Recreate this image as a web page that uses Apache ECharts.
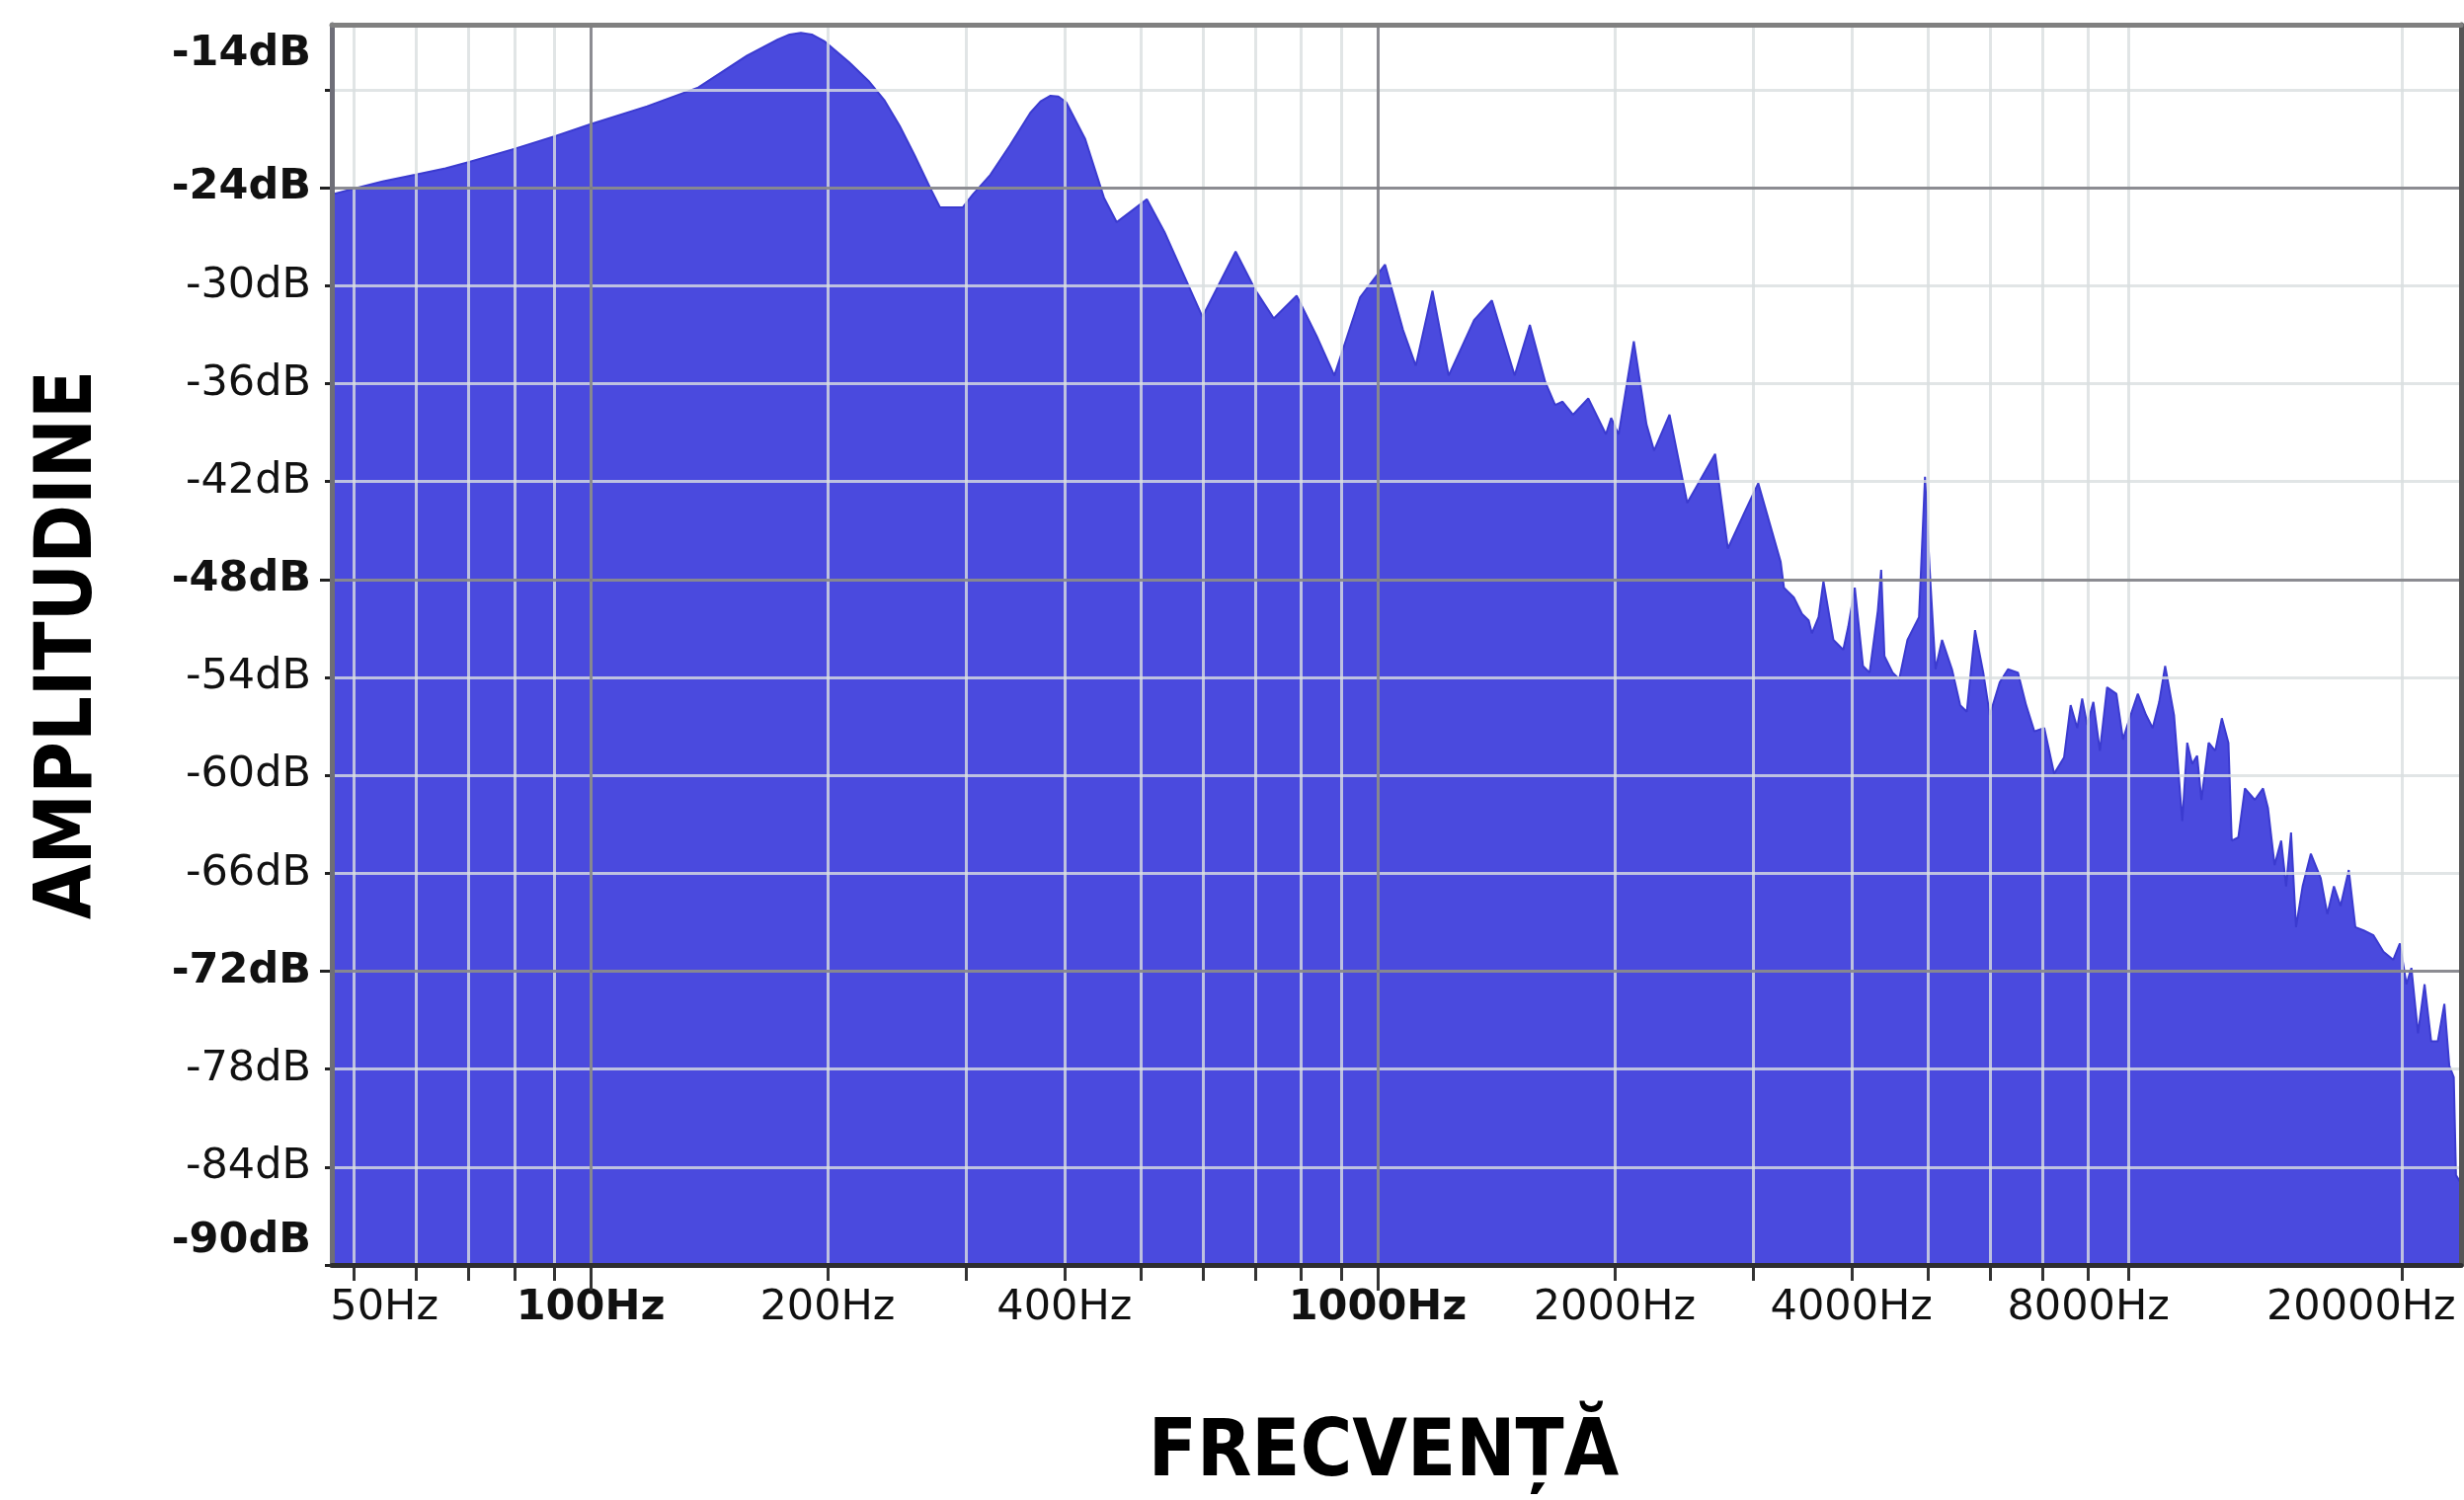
<!DOCTYPE html>
<html>
<head>
<meta charset="utf-8">
<title>Spectru de frecventa</title>
<script src="https://cdn.jsdelivr.net/npm/echarts@6/dist/echarts.min.js"></script>
<style>
  html, body { margin: 0; padding: 0; background: #fff; }
  #chart { width: 2495px; height: 1519px; }
</style>
</head>
<body>
<div id="chart"></div>
<script>
// frecvente (Hz) si nivelurile citite de pe spectru (dB)
var freqs = [
  46.9, 50.5, 54.4, 59.8, 65.4, 70.3, 80.1, 90.5, 100, 118,
  137, 158, 173, 179, 185, 191, 198, 213, 226, 236, 247, 258,
  270, 278, 297, 306, 322, 341, 362, 373, 384, 393, 402, 425,
  449, 466, 509, 536, 569, 599, 660, 700, 738, 789,
  837, 881, 950, 1022, 1077, 1118, 1174, 1231, 1326, 1397,
  1493, 1561, 1633, 1681, 1718, 1771, 1852, 1950, 1980, 2024,
  2116, 2196, 2245, 2349, 2474, 2684, 2786, 2937, 3045, 3251,
  3283, 3379, 3428, 3461, 3529, 3563, 3633, 3685, 3794, 3905,
  3962, 4039, 4137, 4218, 4321, 4363, 4405, 4512, 4600, 4712,
  4874, 4960, 5027, 5115, 5214, 5367, 5498, 5605, 5742, 5882,
  5996, 6172, 6323, 6509, 6668, 6830, 7031, 7237, 7450, 7595,
  7743, 7856, 7971, 8117, 8274, 8450, 8683, 8853, 9025, 9245,
  9470, 9655, 9842, 10014, 10278, 10529, 10683, 10838, 10997, 11135,
  11374, 11595, 11821, 12051, 12168, 12405, 12646, 13018, 13335, 13530,
  13793, 14062, 14266, 14474, 14686, 14972, 15338, 15788, 16095, 16409,
  16729, 17137, 17470, 17898, 18423, 18965, 19520, 19900, 20287, 20583,
  20984, 21393, 21810, 22234, 22667, 22998, 23300, 23450, 23800
];
var levels = [
  -24.4, -24.0, -23.6, -23.2, -22.8, -22.4, -21.6, -20.8, -20.1, -19.0,
  -17.85, -15.9, -14.9, -14.6, -14.5, -14.6, -15.0, -16.3, -17.5, -18.6, -20.2, -22.0,
  -24.0, -25.2, -25.2, -24.4, -23.2, -21.4, -19.4, -18.7, -18.35, -18.4, -18.75, -21.0,
  -24.6, -26.1, -24.7, -26.7, -29.5, -31.9, -27.9, -30.3, -32.0, -30.6,
  -33.1, -35.5, -30.7, -28.7, -32.7, -34.9, -30.3, -35.5, -32.1, -30.9,
  -35.5, -32.4, -35.9, -37.3, -37.1, -37.9, -36.9, -39.1, -38.1, -39.1,
  -33.4, -38.5, -40.1, -37.9, -43.3, -40.3, -46.1, -43.7, -42.1, -46.9,
  -48.5, -49.1, -49.7, -50.1, -50.5, -51.3, -50.3, -48.1, -51.7, -52.3,
  -50.9, -48.5, -53.3, -53.7, -49.9, -47.4, -52.7, -53.7, -54.1, -51.7,
  -50.3, -41.7, -47.3, -53.5, -51.7, -53.5, -55.7, -56.1, -51.1, -53.7,
  -56.3, -54.3, -53.5, -53.7, -55.7, -57.3, -57.1, -59.9, -58.9, -55.7,
  -57.1, -55.3, -56.9, -55.5, -58.5, -54.6, -55.0, -57.8, -56.5, -55.0,
  -56.3, -57.1, -55.5, -53.3, -56.3, -62.8, -58.0, -59.3, -58.8, -61.5,
  -58.0, -58.5, -56.5, -58.0, -64.0, -63.8, -60.8, -61.5, -60.8, -62.0,
  -65.5, -64.0, -66.8, -63.5, -69.3, -66.8, -64.8, -66.3, -68.5, -66.8,
  -68.0, -65.8, -69.3, -69.5, -69.8, -70.8, -71.3, -70.3, -72.8, -71.8,
  -75.8, -72.8, -76.3, -76.3, -74.0, -77.8, -78.5, -84.5, -85.0
];

// axa de frecventa (logaritmica)
var freqTicks = [50, 60, 70, 80, 90, 100, 200, 300, 400, 500, 600, 700, 800, 900,
  1000, 2000, 3000, 4000, 5000, 6000, 7000, 8000, 9000, 20000];
var freqLabels = [50, 100, 200, 400, 1000, 2000, 4000, 8000, 20000];
var majorFreqs = [100, 1000];
var fMin = 46.9, fMax = 23800;

// axa de amplitudine
var dbTicks = [-90, -84, -78, -72, -66, -60, -54, -48, -42, -36, -30, -24, -18];
var dbLabels = [-90, -84, -78, -72, -66, -60, -54, -48, -42, -36, -30, -24, -14];
var majorDb = [-24, -48, -72];
var boldDb = [-14, -24, -48, -72, -90];
var dbMin = -90, dbMax = -14;

var chart = echarts.init(document.getElementById('chart'));

function lg(f) { return Math.log10(f); }
var xMin = lg(fMin), xMax = lg(fMax);

var labelFont = 'DejaVu Sans';
var nameFont = "'DejaVu Sans Condensed', 'DejaVu Sans'";
var lightGrid = 'rgba(218,222,224,0.8)';
var darkGrid = 'rgba(125,125,130,0.85)';

function txt(weight, padding) {
    var s = { fontFamily: labelFont, fontSize: 43, fontWeight: weight, color: '#111', lineHeight: 50 };
    if (padding) s.padding = padding;
    return s;
}

// rama graficului: o axa doar cu linia ei
function frameX(pos, color) {
    return {
        type: 'value', position: pos, min: xMin, max: xMax, z: 6,
        axisLine: { show: true, lineStyle: { color: color, width: 5 } },
        axisTick: { show: false }, axisLabel: { show: false }, splitLine: { show: false }
    };
}
function frameY(pos, color) {
    return {
        type: 'value', position: pos, min: dbMin, max: dbMax, z: 6,
        axisLine: { show: true, lineStyle: { color: color, width: 5 } },
        axisTick: { show: false }, axisLabel: { show: false }, splitLine: { show: false }
    };
}

var option = {
    backgroundColor: '#fff',
    animation: false,
    grid: { left: 336, right: 3, top: 25, bottom: 238, outerBoundsMode: 'none' },
    xAxis: [
        {
            type: 'value', position: 'bottom', min: xMin, max: xMax, z: 3,
            name: 'FRECVENȚĂ', nameLocation: 'middle', nameGap: 152,
            nameTextStyle: { fontFamily: nameFont, fontWeight: 'bold', fontSize: 80, color: '#000',
                lineHeight: 80, padding: [0, 26, 0, 0] },
            axisLine: { show: false },
            axisTick: { show: true, customValues: freqTicks.map(lg), length: 16,
                lineStyle: { color: '#333', width: 3 } },
            axisLabel: {
                show: true, customValues: freqLabels.map(lg), margin: 19,
                formatter: function (v) {
                    var f = Math.round(Math.pow(10, v));
                    var key = majorFreqs.indexOf(f) >= 0 ? 'b' : 'n';
                    if (f === freqLabels[0]) key = 'first';
                    if (f === freqLabels[freqLabels.length - 1]) key = 'last';
                    return '{' + key + '|' + f + 'Hz}';
                },
                rich: {
                    n: txt('normal'), b: txt('bold'),
                    first: txt('normal', [0, 0, 0, 62]),
                    last: txt('normal', [0, 82, 0, 0])
                }
            },
            splitLine: { show: true, lineStyle: { color: lightGrid, width: 3 } }
        },
        {
            type: 'value', position: 'bottom', min: xMin, max: xMax, z: 4,
            axisLine: { show: false },
            axisTick: { show: true, customValues: majorFreqs.map(lg), length: 26,
                lineStyle: { color: '#333', width: 3 } },
            axisLabel: { show: false },
            splitLine: { show: true, lineStyle: { color: darkGrid, width: 3 } }
        },
        frameX('top', '#808080'),
        frameX('bottom', '#2e2e30')
    ],
    yAxis: [
        {
            type: 'value', position: 'left', min: dbMin, max: dbMax, z: 3,
            name: 'AMPLITUDINE', nameLocation: 'middle', nameRotate: 90, nameGap: 225,
            nameTextStyle: { fontFamily: nameFont, fontWeight: 'bold', fontSize: 80, color: '#000', lineHeight: 80 },
            axisLine: { show: false },
            axisTick: { show: true, customValues: dbTicks, length: 7,
                lineStyle: { color: '#222', width: 3 } },
            axisLabel: {
                show: true, customValues: dbLabels, margin: 21,
                formatter: function (v) {
                    var d = Math.round(v);
                    var key = boldDb.indexOf(d) >= 0 ? 'b' : 'n';
                    if (d === dbMax) key = 'top';
                    if (d === dbMin) key = 'bottom';
                    return '{' + key + '|' + d + 'dB}';
                },
                rich: {
                    n: txt('normal'), b: txt('bold'),
                    top: txt('bold', [60, 0, 0, 0]),
                    bottom: txt('bold', [0, 0, 48, 0])
                }
            },
            splitLine: { show: true, lineStyle: { color: lightGrid, width: 3 } }
        },
        {
            type: 'value', position: 'left', min: dbMin, max: dbMax, z: 4,
            axisLine: { show: false },
            axisTick: { show: true, customValues: majorDb, length: 12,
                lineStyle: { color: '#222', width: 3 } },
            axisLabel: { show: false },
            splitLine: { show: true, lineStyle: { color: darkGrid, width: 3 } }
        },
        frameY('left', '#6e6e78'),
        frameY('right', '#555')
    ],
    series: [
        {
            type: 'line',
            xAxisIndex: 0,
            yAxisIndex: 0,
            data: freqs.map(function (f, i) { return [lg(f), levels[i]]; }),
            showSymbol: false,
            symbol: 'none',
            silent: true,
            z: 2,
            lineStyle: { color: '#3b3bd0', width: 2 },
            areaStyle: { color: '#4a4ade', opacity: 1, origin: 'start' }
        }
    ]
};

chart.setOption(option);
</script>
</body>
</html>
